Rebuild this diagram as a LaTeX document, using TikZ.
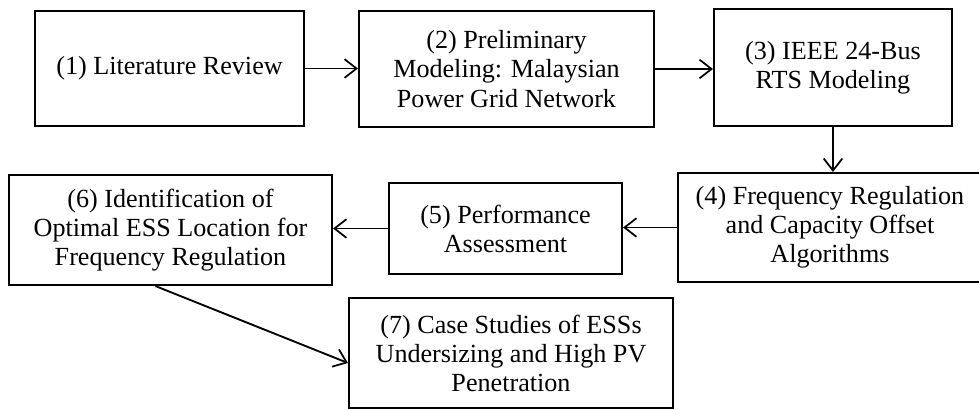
\documentclass[tikz,border=0pt]{standalone}
\usepackage{fontspec}
\setmainfont{Liberation Serif}
\usetikzlibrary{arrows.meta}
\begin{document}
\begin{tikzpicture}[x=0.75pt,y=-0.75pt,
  box/.style={draw=black, line width=1.6pt, align=center, inner sep=0pt,
    font=\fontsize{19.6}{21.8}\selectfont},
  conn/.style={line width=1.4pt, -{Straight Barb[length=9pt,width=14pt,line width=1.3pt]}}]
\useasboundingbox (0,0) rectangle (979,410);
\node[box, minimum width=269*0.75pt, minimum height=115*0.75pt] (b1) at (169.5,68.5) {(1) Literature Review};
\node[box, minimum width=295*0.75pt, minimum height=116*0.75pt] (b2) at (506.5,69) {(2) Preliminary\\Modeling: Malaysian\\Power Grid Network};
\node[box, minimum width=238*0.75pt, minimum height=117*0.75pt] (b3) at (833,67.5) {(3) IEEE 24-Bus\\RTS Modeling};
\node[box, minimum width=304*0.75pt, minimum height=109*0.75pt] (b4) at (830,227.5) {(4) Frequency Regulation\\and Capacity Offset\\Algorithms};
\node[box, minimum width=233*0.75pt, minimum height=91*0.75pt] (b5) at (505.5,228.5) {(5) Performance\\Assessment};
\node[box, minimum width=323*0.75pt, minimum height=110*0.75pt] (b6) at (170.5,230) {(6) Identification of\\Optimal ESS Location for\\Frequency Regulation};
\node[box, minimum width=324*0.75pt, minimum height=110*0.75pt] (b7) at (511,353) {(7) Case Studies of ESSs\\Undersizing and High PV\\Penetration};
\coordinate (s6) at ([xshift=-15*0.75pt]b6.south);
\coordinate (e7) at ([yshift=-10*0.75pt]b7.west);
\draw[conn] (b1.east) -- (b1.east -| b2.west);
\draw[conn] (b2.east) -- (b2.east -| b3.west);
\draw[conn] (b3.south) -- (b3.south |- b4.north);
\draw[conn] (b4.west) -- (b4.west -| b5.east);
\draw[conn] (b5.west) -- (b5.west -| b6.east);
\draw[conn] (s6) -- (e7);
\end{tikzpicture}
\end{document}
